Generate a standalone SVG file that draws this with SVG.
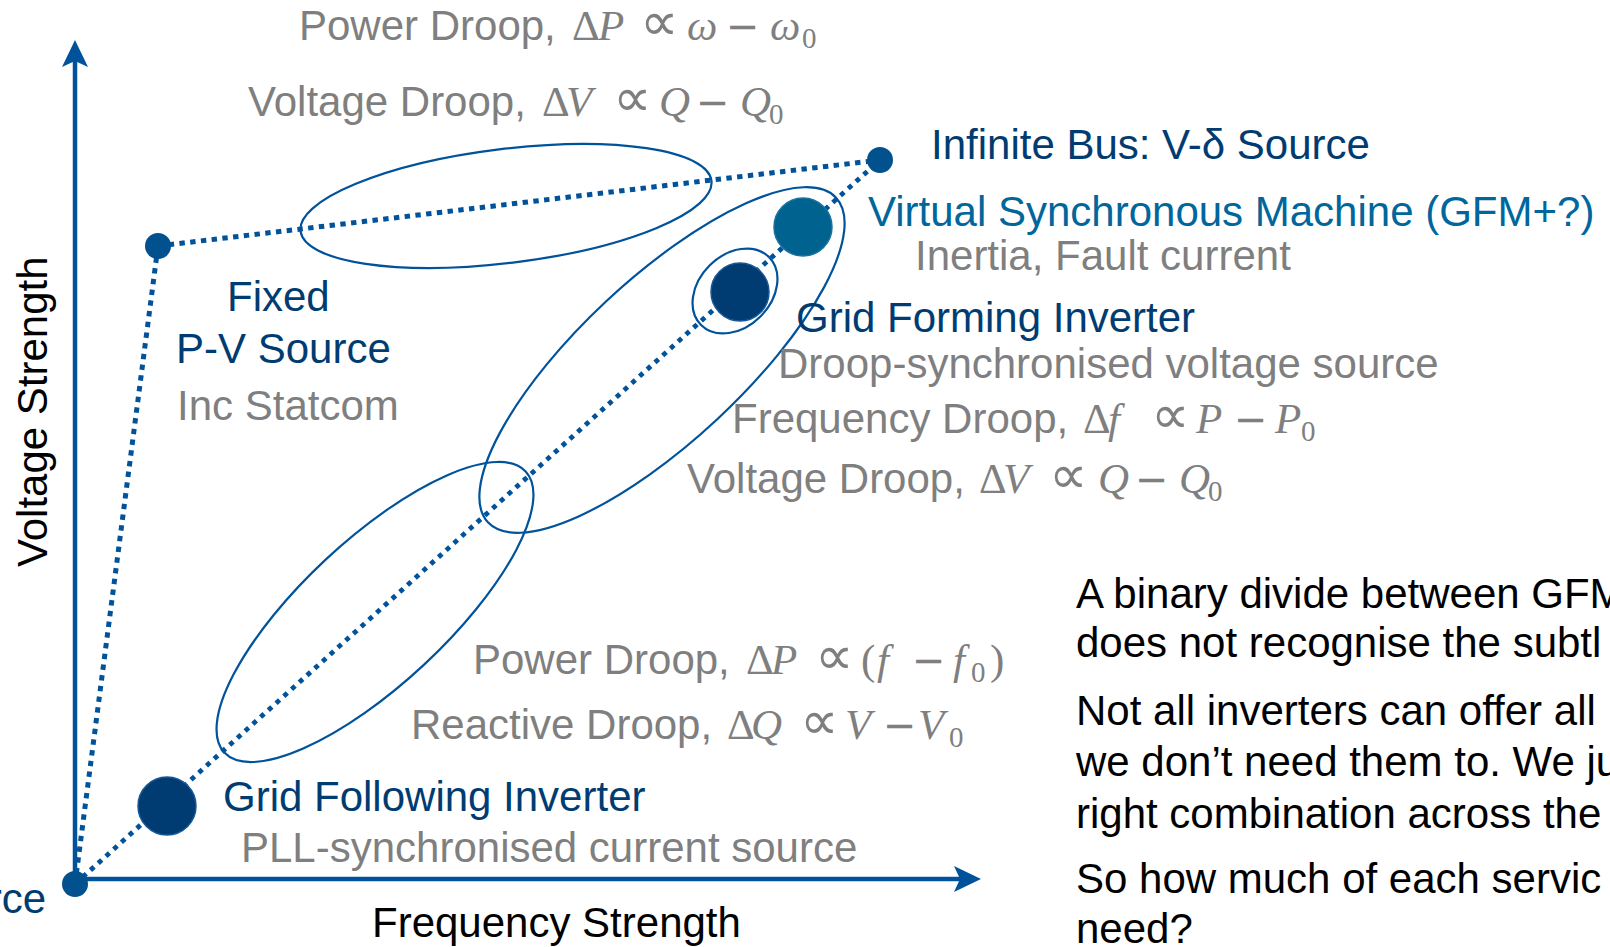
<svg xmlns="http://www.w3.org/2000/svg" width="1610" height="947" viewBox="0 0 1610 947">
  <style>
    text { font-family: "Liberation Sans", Arial, sans-serif; font-size: 42px; }
    .navy { fill: #003c71; }
    .teal { fill: #00669b; }
    .grey { fill: #7f7f7f; }
    .blk { fill: #000000; }
    .m { font-family: "Liberation Serif", "DejaVu Serif", serif; font-size: 43px; fill: #7f7f7f; }
    .i { font-style: italic; }
    .p { font-family: "DejaVu Sans", sans-serif; font-size: 40px; }
    .prop { font-family: "DejaVu Sans", sans-serif; font-size: 54px; }
    .s { font-size: 29px; }
    .axis { stroke: #00539b; stroke-width: 4.5; fill: none; }
    .head { fill: #00539b; }
    .dot-line { stroke: #00539b; stroke-width: 5; stroke-dasharray: 5.4 5.4; fill: none; }
    .diag-line { stroke: #00539b; stroke-width: 4.8; stroke-dasharray: 4.8 5.6; fill: none; }
    .ring { stroke: #00539b; stroke-width: 2.2; fill: none; }
    .pt { fill: #00518e; }
    .big-navy { fill: #003b71; stroke: #165896; stroke-width: 1.5; }
    .big-teal { fill: #00628f; stroke: #1a72a0; stroke-width: 1.5; }
  </style>

  <!-- axes -->
  <g id="axes">
    <line class="axis" x1="75" y1="884" x2="75" y2="60"/>
    <polygon class="head" points="75,40 88,67 75,61 62,67"/>
    <line class="axis" x1="75" y1="879" x2="962" y2="879"/>
    <polygon class="head" points="981,879 954,866 960,879 954,892"/>
    <text class="blk" transform="translate(47,567) rotate(-90)">Voltage Strength</text>
    <text class="blk" x="372" y="937">Frequency Strength</text>
  </g>

  <!-- dotted connectors between the corner sources -->
  <g id="connectors">
    <line class="dot-line" x1="75" y1="884" x2="158" y2="246"/>
    <line class="dot-line" x1="158" y1="246" x2="880" y2="160"/>
    <line class="diag-line" x1="75" y1="884" x2="880" y2="160"/>
  </g>

  <!-- service groupings -->
  <g id="groupings">
    <ellipse class="ring" cx="506" cy="206" rx="207" ry="57" transform="rotate(-7 506 206)"/>
    <ellipse class="ring" cx="662" cy="360" rx="238" ry="81" transform="rotate(-43 662 360)"/>
    <ellipse class="ring" cx="375" cy="612" rx="206" ry="72" transform="rotate(-43 375 612)"/>
    <ellipse class="ring" cx="735" cy="291" rx="48" ry="36" transform="rotate(-45 735 291)"/>
  </g>

  <g id="node-origin">
    <circle class="pt" cx="75" cy="884" r="13"/>
    <text class="navy" x="46" y="913" text-anchor="end">rce</text>
  </g>

  <g id="node-fixed">
    <circle class="pt" cx="158" cy="246" r="13"/>
    <text class="navy" x="227" y="311">Fixed</text>
    <text class="navy" x="176" y="363">P-V Source</text>
    <text class="grey" x="177" y="420">Inc Statcom</text>
  </g>

  <g id="node-infinite-bus">
    <circle class="pt" cx="880" cy="160" r="13"/>
    <text class="navy" x="931" y="159">Infinite Bus: V-δ Source</text>
  </g>

  <g id="node-vsm">
    <circle class="big-teal" cx="803" cy="227" r="29"/>
    <text class="teal" x="868" y="226">Virtual Synchronous Machine (GFM+?)</text>
    <text class="grey" x="915" y="270">Inertia, Fault current</text>
  </g>

  <g id="node-gfm">
    <circle class="big-navy" cx="740" cy="292" r="29"/>
    <text class="navy" x="796" y="332">Grid Forming Inverter</text>
    <text class="grey" x="778" y="378">Droop-synchronised voltage source</text>
  </g>

  <g id="node-gfl">
    <circle class="big-navy" cx="167" cy="806" r="29"/>
    <text class="navy" x="223" y="811">Grid Following Inverter</text>
    <text class="grey" x="241" y="862">PLL-synchronised current source</text>
  </g>

  <!-- droop laws -->
  <g id="droop-laws">
    <text class="grey" x="299" y="40">Power Droop,</text>
    <text class="m" y="40"><tspan x="572">Δ</tspan><tspan class="i" x="598">P</tspan><tspan class="prop" x="640">∝</tspan><tspan class="i" x="687">ω</tspan><tspan class="p" x="726">−</tspan><tspan class="i" x="770">ω</tspan><tspan class="s" x="802" dy="8">0</tspan></text>

    <text class="grey" x="248" y="116">Voltage Droop,</text>
    <text class="m" y="116"><tspan x="542">Δ</tspan><tspan class="i" x="566">V</tspan><tspan class="prop" x="613">∝</tspan><tspan class="i" x="659">Q</tspan><tspan class="p" x="696">−</tspan><tspan class="i" x="740">Q</tspan><tspan class="s" x="769" dy="8">0</tspan></text>

    <text class="grey" x="732" y="433">Frequency Droop,</text>
    <text class="m" y="433"><tspan x="1083">Δ</tspan><tspan class="i" x="1108">f</tspan><tspan class="prop" x="1151">∝</tspan><tspan class="i" x="1196">P</tspan><tspan class="p" x="1234">−</tspan><tspan class="i" x="1275">P</tspan><tspan class="s" x="1301" dy="8">0</tspan></text>

    <text class="grey" x="687" y="493">Voltage Droop,</text>
    <text class="m" y="493"><tspan x="979">Δ</tspan><tspan class="i" x="1003">V</tspan><tspan class="prop" x="1049">∝</tspan><tspan class="i" x="1098">Q</tspan><tspan class="p" x="1135">−</tspan><tspan class="i" x="1179">Q</tspan><tspan class="s" x="1208" dy="8">0</tspan></text>

    <text class="grey" x="473" y="674">Power Droop,</text>
    <text class="m" y="674"><tspan x="746">Δ</tspan><tspan class="i" x="771">P</tspan><tspan class="prop" x="815">∝</tspan><tspan x="861">(</tspan><tspan class="i" x="877">f</tspan><tspan class="p" x="912">−</tspan><tspan class="i" x="953">f</tspan><tspan class="s" x="971" dy="8">0</tspan><tspan x="990" dy="-8">)</tspan></text>

    <text class="grey" x="411" y="739">Reactive Droop,</text>
    <text class="m" y="739"><tspan x="727">Δ</tspan><tspan class="i" x="751">Q</tspan><tspan class="prop" x="800">∝</tspan><tspan class="i" x="845">V</tspan><tspan class="p" x="883">−</tspan><tspan class="i" x="918">V</tspan><tspan class="s" x="949" dy="8">0</tspan></text>
  </g>

  <!-- commentary -->
  <g id="notes" class="blk">
    <text x="1076" y="608">A binary divide between GFM</text>
    <text x="1076" y="657">does not recognise the subtl</text>
    <text x="1076" y="725">Not all inverters can offer all</text>
    <text x="1076" y="776">we don’t need them to. We ju</text>
    <text x="1076" y="828">right combination across the</text>
    <text x="1076" y="893">So how much of each servic</text>
    <text x="1076" y="943">need?</text>
  </g>
</svg>
